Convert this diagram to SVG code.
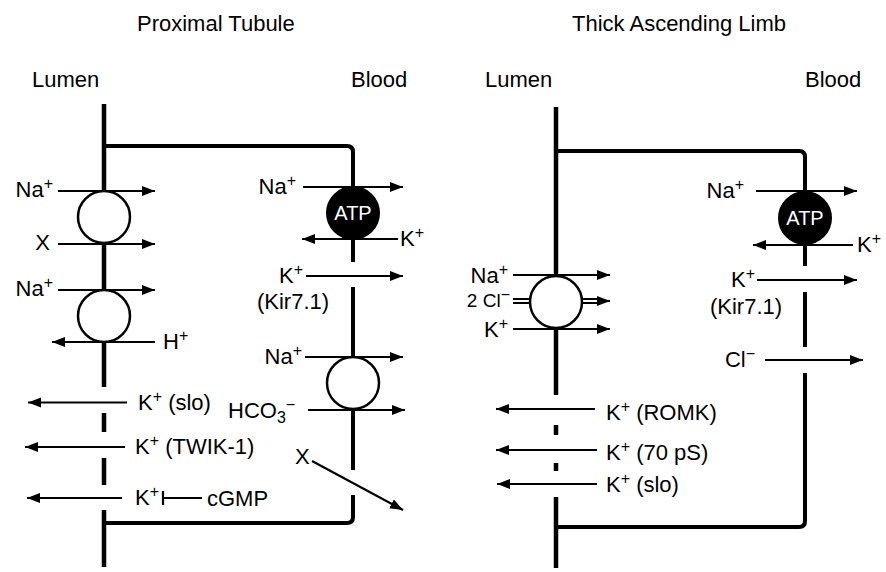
<svg xmlns="http://www.w3.org/2000/svg" width="886" height="572" viewBox="0 0 886 572">
<defs>
<marker id="ah" markerUnits="userSpaceOnUse" markerWidth="14" markerHeight="11" refX="13" refY="5" orient="auto">
<path d="M0,0 L13,5 L0,10 z" fill="#000"/>
</marker>
<style>
text{font-family:"Liberation Sans",Arial,Helvetica,sans-serif;font-size:22px;fill:#000}
.sm{font-size:16px}
.mem{fill:none;stroke:#000;stroke-width:4.5}
.box{fill:none;stroke:#000;stroke-width:4}
.tr{fill:#fff;stroke:#000;stroke-width:2.5}
.atp{fill:#000;stroke:#000;stroke-width:2}
.atpt{fill:#fff;font-size:20px;text-anchor:middle}
.ar{stroke:#000;stroke-width:2.2;fill:none;marker-end:url(#ah)}
.ln{stroke:#000;stroke-width:2.2;fill:none}
.e{text-anchor:end}
.m{text-anchor:middle}
</style>
</defs>
<rect width="886" height="572" fill="#fff"/>

<g id="titles">
<text x="137" y="31">Proximal Tubule</text>
<text x="572" y="31">Thick Ascending Limb</text>
<text x="32" y="87">Lumen</text>
<text x="351" y="87">Blood</text>
<text x="485" y="87">Lumen</text>
<text x="805" y="87">Blood</text>
</g>

<g id="pt-membranes">
<path class="mem" d="M104,104 V387 M104,413 V432 M104,458 V485 M104,510 V567"/>
<path class="box" d="M104,146 H347 Q353,146 353,152 V213 M353,213 V262 M353,287 V383 M353,383 V470 M353,495 V517 Q353,523 347,523 H104"/>
</g>

<g id="tal-membranes">
<path class="mem" d="M556,107 V395 M556,425 V435 M556,463 V471 M556,497 V568"/>
<path class="box" d="M556,151 H799 Q805,151 805,157 V218 M805,218 V266 M805,292 V347 M805,373 V521 Q805,527 799,527 H556"/>
</g>

<g id="connectors">
<!-- proximal tubule, lumen side -->
<line class="ar" x1="58" y1="191" x2="155" y2="191"/>
<line class="ar" x1="58" y1="244" x2="155" y2="244"/>
<line class="ar" x1="58" y1="290" x2="155" y2="290"/>
<line class="ar" x1="155" y1="342" x2="52" y2="342"/>
<line class="ar" x1="127" y1="402.5" x2="28" y2="402.5"/>
<line class="ar" x1="125" y1="447" x2="25" y2="447"/>
<line class="ar" x1="122" y1="498" x2="27" y2="498"/>
<line class="ln" x1="202" y1="498" x2="163" y2="498"/>
<line class="ln" x1="163" y1="491" x2="163" y2="505"/>
<!-- proximal tubule, blood side -->
<line class="ar" x1="303" y1="187" x2="403" y2="187"/>
<line class="ar" x1="398" y1="239" x2="302" y2="239"/>
<line class="ar" x1="306" y1="276" x2="403" y2="276"/>
<line class="ar" x1="305" y1="357" x2="403" y2="357"/>
<line class="ar" x1="308" y1="410" x2="405" y2="410"/>
<line class="ar" x1="312" y1="461" x2="403" y2="510"/>
<!-- thick ascending limb, lumen side -->
<line class="ar" x1="513" y1="275" x2="610" y2="275"/>
<line class="ln" x1="513" y1="299" x2="600" y2="299"/>
<line class="ln" x1="513" y1="303" x2="600" y2="303"/>
<line class="ar" x1="598" y1="301" x2="610" y2="301"/>
<line class="ar" x1="513" y1="329" x2="610" y2="329"/>
<line class="ar" x1="595" y1="409" x2="496" y2="409"/>
<line class="ar" x1="597" y1="450" x2="496" y2="450"/>
<line class="ar" x1="597" y1="484" x2="497" y2="484"/>
<!-- thick ascending limb, blood side -->
<line class="ar" x1="756" y1="191" x2="857" y2="191"/>
<line class="ar" x1="853" y1="245" x2="753" y2="245"/>
<line class="ar" x1="757" y1="280" x2="857" y2="280"/>
<line class="ar" x1="765" y1="360" x2="863" y2="360"/>
</g>

<g id="pt-nhe-cotransporter">
<circle class="tr" cx="104" cy="217" r="26"/>
</g>
<g id="pt-nhe">
<circle class="tr" cx="104" cy="316" r="26"/>
</g>
<g id="pt-atpase">
<circle class="atp" cx="353" cy="213" r="26"/>
<text class="atpt" x="353" y="220">ATP</text>
</g>
<g id="pt-nbc">
<circle class="tr" cx="353" cy="383" r="26"/>
</g>
<g id="tal-nkcc">
<circle class="tr" cx="556" cy="302" r="26"/>
</g>
<g id="tal-atpase">
<circle class="atp" cx="805" cy="218" r="26"/>
<text class="atpt" x="805" y="225">ATP</text>
</g>

<g id="pt-labels">
<text class="e" x="53" y="197">Na<tspan class="sm" dy="-8">+</tspan></text>
<text class="e" x="50" y="250">X</text>
<text class="e" x="53" y="296">Na<tspan class="sm" dy="-8">+</tspan></text>
<text x="163" y="349">H<tspan class="sm" dy="-8">+</tspan></text>
<text x="138" y="410">K<tspan class="sm" dy="-8">+</tspan><tspan dy="8"> (slo)</tspan></text>
<text x="135" y="454">K<tspan class="sm" dy="-8">+</tspan><tspan dy="8"> (TWIK-1)</tspan></text>
<text x="135" y="505">K<tspan class="sm" dy="-8">+</tspan></text>
<text x="207" y="506">cGMP</text>
<text class="e" x="296" y="194">Na<tspan class="sm" dy="-8">+</tspan></text>
<text x="400" y="246">K<tspan class="sm" dy="-8">+</tspan></text>
<text class="e" x="303" y="283">K<tspan class="sm" dy="-8">+</tspan></text>
<text class="m" x="293" y="309">(Kir7.1)</text>
<text class="e" x="302" y="364">Na<tspan class="sm" dy="-8">+</tspan></text>
<text x="228" y="418">HCO<tspan class="sm" dy="5">3</tspan><tspan class="sm" dy="-13">−</tspan></text>
<text x="295" y="464">X</text>
</g>

<g id="tal-labels">
<text class="e" x="508" y="283">Na<tspan class="sm" dy="-8">+</tspan></text>
<text class="e" x="510" y="307" style="font-size:19px">2 Cl<tspan class="sm" dy="-7">−</tspan></text>
<text class="e" x="508" y="337">K<tspan class="sm" dy="-8">+</tspan></text>
<text x="606" y="420">K<tspan class="sm" dy="-8">+</tspan><tspan dy="8"> (ROMK)</tspan></text>
<text x="606" y="460">K<tspan class="sm" dy="-8">+</tspan><tspan dy="8"> (70 pS)</tspan></text>
<text x="606" y="492">K<tspan class="sm" dy="-8">+</tspan><tspan dy="8"> (slo)</tspan></text>
<text class="e" x="744" y="198">Na<tspan class="sm" dy="-8">+</tspan></text>
<text x="857" y="252">K<tspan class="sm" dy="-8">+</tspan></text>
<text class="e" x="755" y="287">K<tspan class="sm" dy="-8">+</tspan></text>
<text class="m" x="746" y="314">(Kir7.1)</text>
<text class="e" x="755" y="367">Cl<tspan class="sm" dy="-8">−</tspan></text>
</g>
</svg>
